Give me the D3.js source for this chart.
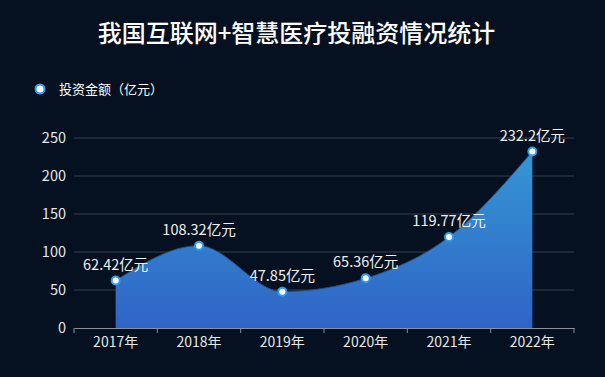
<!DOCTYPE html>
<html lang="en">
<head>
    <meta charset="UTF-8">
    <title>投融资情况统计</title>
    <style>
        body { margin: 0; background: #051121; }
        text { font-family: "Noto Sans CJK SC", "Noto Sans", sans-serif; }
    </style>
</head>
<body>
<script src="https://cdn.jsdelivr.net/npm/d3@7/dist/d3.min.js"></script>
<script>
    // Data
    const years = ["2017年", "2018年", "2019年", "2020年", "2021年", "2022年"];
    const amounts = [62.42, 108.32, 47.85, 65.36, 119.77, 232.2];
    const yTicks = [0, 50, 100, 150, 200, 250];

    // Dimensions
    const width = 605;
    const height = 377;
    const plotLeft = 74, plotRight = 574, plotTop = 138, plotBottom = 328;

    const svg = d3.select("body")
        .append("svg")
        .attr("width", width)
        .attr("height", height);

    svg.append("rect")
        .attr("width", width)
        .attr("height", height)
        .attr("fill", "#051121");

    // Title
    svg.append("text")
        .attr("x", width / 2 - 6)
        .attr("y", 42)
        .attr("text-anchor", "middle")
        .attr("fill", "#fff")
        .attr("font-size", 24)
        .attr("font-weight", 500)
        .text("我国互联网+智慧医疗投融资情况统计");

    // Legend
    svg.append("circle")
        .attr("cx", 40).attr("cy", 89).attr("r", 4.5)
        .attr("fill", "#fff").attr("stroke", "#2b9cf0").attr("stroke-width", 2);
    svg.append("text")
        .attr("x", 59).attr("y", 94)
        .attr("fill", "#fff").attr("font-size", 13)
        .text("投资金额（亿元）");

    // Scales
    const x = d3.scaleBand().domain(years).range([plotLeft, plotRight]);
    const y = d3.scaleLinear().domain([0, 250]).range([plotBottom, plotTop]);
    const cx = d => x(d) + x.bandwidth() / 2;

    // Grid
    svg.append("g")
        .selectAll("line")
        .data(yTicks.slice(1))
        .enter()
        .append("line")
        .attr("x1", plotLeft).attr("x2", plotRight)
        .attr("y1", d => y(d)).attr("y2", d => y(d))
        .attr("stroke", "#383f4a").attr("stroke-width", 1);

    // Y axis labels
    svg.append("g")
        .selectAll("text")
        .data(yTicks)
        .enter()
        .append("text")
        .attr("x", 66)
        .attr("y", d => y(d) + 5)
        .attr("text-anchor", "end")
        .attr("fill", "#e6e6e6")
        .attr("font-size", 14.5)
        .text(d => d);

    // Gradient
    const grad = svg.append("defs").append("linearGradient")
        .attr("id", "areaGrad")
        .attr("x1", 0).attr("y1", 0).attr("x2", 0).attr("y2", 1);
    grad.append("stop").attr("offset", "0%").attr("stop-color", "#3596d4");
    grad.append("stop").attr("offset", "100%").attr("stop-color", "#2f64c6");

    const pts = years.map((d, i) => ({ k: d, v: amounts[i] }));

    svg.append("path")
        .datum(pts)
        .attr("fill", "url(#areaGrad)")
        .attr("d", d3.area()
            .curve(d3.curveMonotoneX)
            .x(d => cx(d.k))
            .y0(plotBottom)
            .y1(d => y(d.v)));

    svg.append("path")
        .datum(pts)
        .attr("fill", "none")
        .attr("stroke", "#1e4f8a")
        .attr("stroke-width", 1)
        .attr("d", d3.line()
            .curve(d3.curveMonotoneX)
            .x(d => cx(d.k))
            .y(d => y(d.v)));

    // X axis
    const xAxis = svg.append("g")
        .attr("transform", "translate(0," + plotBottom + ")")
        .call(d3.axisBottom(x).tickSize(0).tickPadding(9));
    xAxis.select(".domain").attr("stroke", "#8a8f96");
    xAxis.selectAll("text")
        .attr("fill", "#e6e6e6")
        .attr("font-size", 14)
        .attr("font-family", "Noto Sans CJK SC, sans-serif");
    svg.append("g")
        .selectAll("line")
        .data(d3.range(years.length + 1))
        .enter()
        .append("line")
        .attr("x1", i => plotLeft + i * x.step())
        .attr("x2", i => plotLeft + i * x.step())
        .attr("y1", plotBottom).attr("y2", plotBottom + 5)
        .attr("stroke", "#8a8f96");

    // Points
    svg.append("g")
        .selectAll("circle")
        .data(pts)
        .enter()
        .append("circle")
        .attr("cx", d => cx(d.k))
        .attr("cy", d => y(d.v))
        .attr("r", 4)
        .attr("fill", "#fff")
        .attr("stroke", "#2b9cf0")
        .attr("stroke-width", 2);

    // Labels
    svg.append("g")
        .selectAll("text")
        .data(pts)
        .enter()
        .append("text")
        .attr("x", d => cx(d.k))
        .attr("y", d => y(d.v) - 11)
        .attr("text-anchor", "middle")
        .attr("fill", "#f0f0f0")
        .attr("font-size", 14.5)
        .text(d => d.v + "亿元");
</script>
</body>
</html>
